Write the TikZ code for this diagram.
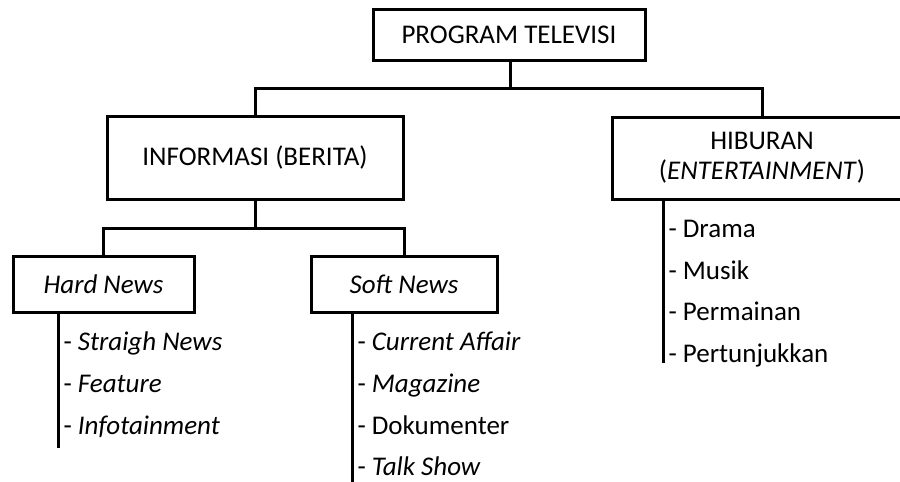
\documentclass[tikz,border=0pt]{standalone}
\usepackage{fontspec}
\setmainfont{Carlito}
\begin{document}
\begin{tikzpicture}[x=1pt,y=-1pt,
  line width=3pt, line join=miter,
  font=\fontsize{27}{30}\selectfont,
  boxnode/.style={draw, rectangle, inner sep=0pt, align=center},
  item/.style={anchor=base west, inner sep=0pt}]
\clip (0,0) rectangle (900,482);
\fill[white] (0,0) rectangle (900,482);
% boxes
\node[boxnode, minimum width=272pt, minimum height=51pt] (top) at (509,34.5) {PROGRAM TELEVISI};
\node[boxnode, minimum width=296pt, minimum height=83pt] (info) at (255,157.5) {INFORMASI (BERITA)};
\node[boxnode, minimum width=300pt, minimum height=82pt] (hib) at (762,158) {HIBURAN\\(\textit{ENTERTAINMENT})};
\node[boxnode, minimum width=181pt, minimum height=56pt] (hard) at (103.5,284) {\textit{Hard News}};
\node[boxnode, minimum width=186pt, minimum height=56pt] (soft) at (404,284) {\textit{Soft News}};
% bus connectors
\coordinate (bus1) at (510,88);
\coordinate (bus2) at (255,228);
\draw (top.south -| bus1) -- (bus1);
\draw (info.north) |- (bus1) -| (hib.north);
\draw (info.south) -- (bus2);
\draw (hard.north) |- (bus2) -| (soft.north);
% item lines
\coordinate (hardend) at (58,448);
\coordinate (softend) at (352,484);
\coordinate (hibend) at (663,363);
\draw (hardend |- hard.south) -- (hardend);
\draw (softend |- soft.south) -- (softend);
\draw (hibend |- hib.south) -- (hibend);
% items
\node[item] (h1) at (62,350.7) {- \textit{Straigh News}};
\node[item] (h2) at (62,392.7) {- \textit{Feature}};
\node[item] (h3) at (62,434.7) {- \textit{Infotainment}};
\node[item] (s1) at (356,350.7) {- \textit{Current Affair}};
\node[item] (s2) at (356,392.7) {- \textit{Magazine}};
\node[item] (s3) at (356,434.7) {- Dokumenter};
\node[item] (s4) at (356,475.7) {- \textit{Talk Show}};
\node[item] (e1) at (667,237.7) {- Drama};
\node[item] (e2) at (667,279.7) {- Musik};
\node[item] (e3) at (667,320.7) {- Permainan};
\node[item] (e4) at (667,362.7) {- Pertunjukkan};
\end{tikzpicture}
\end{document}
